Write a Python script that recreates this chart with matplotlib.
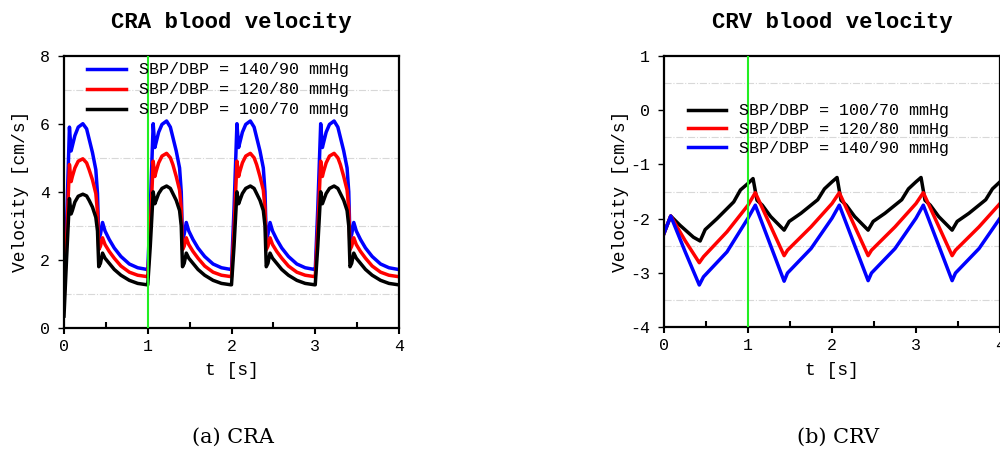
import matplotlib
matplotlib.use("Agg")

import numpy as np
import matplotlib.pyplot as plt
from matplotlib.ticker import MultipleLocator

plt.rcParams["font.family"] = ["Liberation Mono", "DejaVu Sans Mono"]
plt.rcParams["axes.unicode_minus"] = False

# --- CRA: one heartbeat (relative time), first beat and the steady beats ---
beat_t = [0.0, 0.03, 0.065, 0.085, 0.10, 0.13, 0.17, 0.225, 0.27, 0.30, 0.34, 0.38,
          0.40, 0.415, 0.435, 0.46, 0.49, 0.54, 0.60, 0.68, 0.78, 0.88, 0.99]

cra_140_first = [1.30, 3.0, 5.9, 5.2, 5.35, 5.65, 5.9, 6.0, 5.85, 5.55, 5.15, 4.65,
                 3.95, 2.6, 2.75, 3.1, 2.85, 2.6, 2.35, 2.1, 1.88, 1.77, 1.72]
cra_140_beat = [1.70, 3.5, 6.0, 5.3, 5.45, 5.75, 5.98, 6.08, 5.9, 5.6, 5.2, 4.7,
                4.0, 2.6, 2.75, 3.1, 2.85, 2.6, 2.35, 2.1, 1.88, 1.77, 1.72]
cra_120_first = [0.80, 2.5, 4.8, 4.3, 4.45, 4.7, 4.9, 4.97, 4.85, 4.65, 4.35, 3.95,
                 3.4, 2.3, 2.4, 2.65, 2.45, 2.25, 2.05, 1.82, 1.64, 1.55, 1.51]
cra_120_beat = [1.50, 2.9, 4.9, 4.45, 4.6, 4.85, 5.05, 5.13, 5.0, 4.8, 4.45, 4.05,
                3.5, 2.3, 2.4, 2.65, 2.45, 2.25, 2.05, 1.82, 1.64, 1.55, 1.51]
cra_100_first = [0.35, 2.0, 3.8, 3.35, 3.45, 3.7, 3.87, 3.93, 3.88, 3.75, 3.55, 3.25,
                 2.85, 1.8, 1.9, 2.2, 2.05, 1.9, 1.72, 1.55, 1.4, 1.31, 1.27]
cra_100_beat = [1.27, 2.4, 4.0, 3.65, 3.75, 3.95, 4.1, 4.17, 4.1, 3.95, 3.75, 3.45,
                3.0, 1.8, 1.9, 2.2, 2.05, 1.9, 1.72, 1.55, 1.4, 1.31, 1.27]

# --- CRV ---
crv_t_100 = [0, 0.08, 0.19, 0.35, 0.43, 0.49, 0.63, 0.83, 0.91, 1.0, 1.06, 1.107, 1.17,
             1.27, 1.43, 1.49, 1.63, 1.83, 1.91, 2.0, 2.06, 2.107, 2.17, 2.27, 2.43,
             2.49, 2.63, 2.83, 2.91, 3.0, 3.06, 3.107, 3.17, 3.27, 3.43, 3.49, 3.63,
             3.83, 3.91, 4.0]
crv_100 = [-2.27, -1.95, -2.12, -2.34, -2.41, -2.2, -2.0, -1.69, -1.47, -1.35, -1.26,
           -1.66, -1.75, -1.96, -2.21, -2.05, -1.9, -1.65, -1.45, -1.32, -1.24, -1.66,
           -1.75, -1.96, -2.21, -2.05, -1.9, -1.65, -1.45, -1.32, -1.24, -1.66, -1.75,
           -1.96, -2.21, -2.05, -1.9, -1.65, -1.45, -1.32]
crv_t = [0, 0.08, 0.25, 0.42, 0.47, 0.75, 1.0, 1.087, 1.43, 1.47, 1.75, 2.0, 2.087,
         2.43, 2.47, 2.75, 3.0, 3.087, 3.43, 3.47, 3.75, 4.0]
crv_120 = [-2.27, -1.95, -2.4, -2.81, -2.7, -2.24, -1.75, -1.52, -2.68, -2.58, -2.15,
           -1.72, -1.52, -2.68, -2.58, -2.15, -1.72, -1.52, -2.68, -2.58, -2.15, -1.72]
crv_140 = [-2.27, -1.95, -2.6, -3.22, -3.07, -2.61, -1.99, -1.75, -3.15, -3.0, -2.55,
           -1.99, -1.75, -3.14, -3.0, -2.55, -1.99, -1.75, -3.14, -3.0, -2.55, -1.99]

labels = {"140": "SBP/DBP = 140/90 mmHg",
          "120": "SBP/DBP = 120/80 mmHg",
          "100": "SBP/DBP = 100/70 mmHg"}
colors = {"140": "#0000ff", "120": "#ff0000", "100": "#000000"}


def _beats(first, steady, n=4):
    t = np.concatenate([np.array(beat_t) + k for k in range(n)])
    v = np.concatenate([first] + [steady] * (n - 1))
    return t, v


def _style(ax, ylim, ymajor, yminor, title):
    ax.set_xlim(0, 4)
    ax.set_ylim(*ylim)
    ax.xaxis.set_major_locator(MultipleLocator(1))
    ax.xaxis.set_minor_locator(MultipleLocator(0.5))
    ax.yaxis.set_major_locator(MultipleLocator(ymajor))
    ax.yaxis.set_minor_locator(MultipleLocator(yminor))
    ax.tick_params(axis="x", which="major", direction="out", length=4, width=1.5,
                   labelsize=12, pad=4)
    ax.tick_params(axis="x", which="minor", direction="in", length=4, width=1.5)
    ax.tick_params(axis="y", which="major", direction="out", length=4, width=1,
                   labelsize=12, pad=6)
    ax.tick_params(axis="y", which="minor", length=0)
    ax.grid(True, which="minor", axis="y", linestyle="-.", color="#d8d8d8", lw=0.8)
    for s in ax.spines.values():
        s.set_linewidth(1.6)
    ax.set_xlabel("t [s]", fontsize=13, labelpad=6)
    ax.set_ylabel("Velocity [cm/s]", fontsize=13)
    ax.yaxis.set_label_coords(-0.103, 0.5)
    ax.set_title(title, fontsize=16, fontweight="bold", pad=20)
    ax.axvline(1.0, color="#22ee22", lw=1.5, zorder=5)


def _legend(ax, anchor, spacing):
    ax.legend(loc="upper left", bbox_to_anchor=anchor, frameon=False,
              fontsize=12, handlelength=2.3, handletextpad=0.8,
              labelspacing=spacing, borderpad=0, borderaxespad=0)


fig = plt.figure(figsize=(10, 4.54), dpi=100)
ax1 = fig.add_axes([0.064, 0.2775, 0.335, 0.600])
ax2 = fig.add_axes([0.664, 0.279, 0.336, 0.598])

for key, first, steady in [("140", cra_140_first, cra_140_beat),
                           ("120", cra_120_first, cra_120_beat),
                           ("100", cra_100_first, cra_100_beat)]:
    t, v = _beats(first, steady)
    ax1.plot(t, v, color=colors[key], lw=2.5, label=labels[key])
_style(ax1, (0, 8), 2, 1, "CRA blood velocity")
_legend(ax1, (0.07, 0.975), 0.3)

ax2.plot(crv_t_100, crv_100, color=colors["100"], lw=2.5, label=labels["100"])
ax2.plot(crv_t, crv_120, color=colors["120"], lw=2.5, label=labels["120"])
ax2.plot(crv_t, crv_140, color=colors["140"], lw=2.5, label=labels["140"])
_style(ax2, (-4, 1), 1, 0.5, "CRV blood velocity")
_legend(ax2, (0.07, 0.825), 0.22)

fig.text(0.2325, 0.037, "(a) CRA", ha="center", va="center",
         fontsize=15, family="DejaVu Serif")
fig.text(0.838, 0.037, "(b) CRV", ha="center", va="center",
         fontsize=15, family="DejaVu Serif")

fig.savefig("out.png", dpi=100)
